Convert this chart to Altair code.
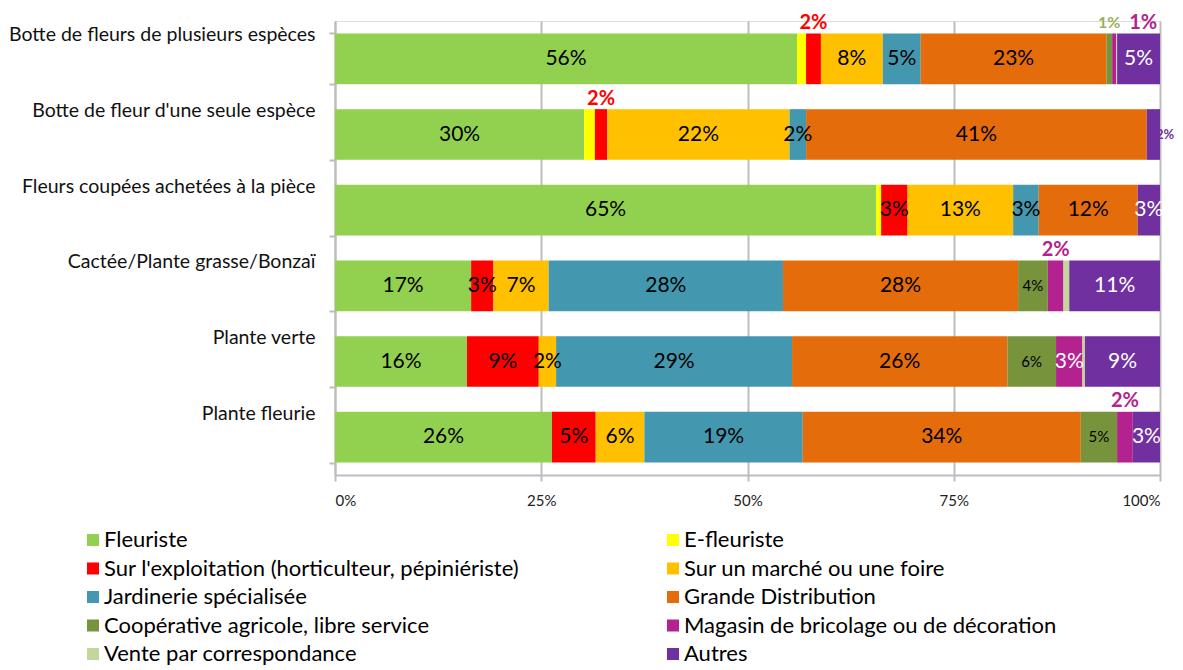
import altair as alt
import pandas as pd

CATEGORIES = [
    "Botte de fleurs de plusieurs espèces",
    "Botte de fleur d'une seule espèce",
    "Fleurs coupées achetées à la pièce",
    "Cactée/Plante grasse/Bonzaï",
    "Plante verte",
    "Plante fleurie",
]

SERIES = [
    "Fleuriste",
    "E-fleuriste",
    "Sur l'exploitation (horticulteur, pépiniériste)",
    "Sur un marché ou une foire",
    "Jardinerie spécialisée",
    "Grande Distribution",
    "Coopérative agricole, libre service",
    "Magasin de bricolage ou de décoration",
    "Vente par correspondance",
    "Autres",
]

COLORS = ["#92D050", "#FFFF00", "#FF0000", "#FFC000", "#4398B0",
          "#E46C0A", "#77933C", "#B3228E", "#C4D79B", "#7030A0"]

# values per category, in SERIES order (percent)
V_BOTTE_PLUSIEURS = [56.0, 1.1, 1.8, 7.5, 4.6, 22.5, 0.7, 0.5, 0.1, 5.2]
V_BOTTE_SEULE = [30.2, 1.3, 1.5, 22.1, 2.0, 41.3, 0.0, 0.0, 0.0, 1.6]
V_COUPEES = [65.6, 0.6, 3.2, 12.8, 3.1, 12.0, 0.0, 0.0, 0.0, 2.7]
V_CACTEE = [16.5, 0.0, 2.7, 6.7, 28.4, 28.5, 3.6, 1.9, 0.7, 11.0]
V_VERTE = [16.0, 0.0, 8.7, 2.1, 28.6, 26.1, 5.9, 3.2, 0.3, 9.1]
V_FLEURIE = [26.3, 0.0, 5.3, 5.9, 19.2, 33.7, 4.4, 1.9, 0.0, 3.3]
VALUES = [V_BOTTE_PLUSIEURS, V_BOTTE_SEULE, V_COUPEES, V_CACTEE, V_VERTE, V_FLEURIE]

# data labels as printed on the chart
L_BOTTE_PLUSIEURS = ["56%", "", "2%", "8%", "5%", "23%", "1%", "1%", "", "5%"]
L_BOTTE_SEULE = ["30%", "", "2%", "22%", "2%", "41%", "", "", "", "2%"]
L_COUPEES = ["65%", "", "3%", "13%", "3%", "12%", "", "", "", "3%"]
L_CACTEE = ["17%", "", "3%", "7%", "28%", "28%", "4%", "2%", "", "11%"]
L_VERTE = ["16%", "", "9%", "2%", "29%", "26%", "6%", "3%", "", "9%"]
L_FLEURIE = ["26%", "", "5%", "6%", "19%", "34%", "5%", "2%", "", "3%"]
LABELS = [L_BOTTE_PLUSIEURS, L_BOTTE_SEULE, L_COUPEES, L_CACTEE, L_VERTE, L_FLEURIE]

# ---- label styling (placement outside the bars) ----
ABOVE = {  # (category index, series index): (color, font size, dx px)
    (0, 2): ("#FF0000", 20, 0),
    (0, 6): ("#9BB057", 16, 0),
    (0, 7): ("#B3228E", 20, 29),
    (1, 2): ("#FF0000", 20, 0),
    (3, 7): ("#B3228E", 20, 0),
    (5, 7): ("#B3228E", 20, 0),
}
RIGHT = {(1, 9): ("#7030A0", 13)}
WHITE_SERIES = {"Autres", "Magasin de bricolage ou de décoration"}
SMALL_SERIES = {"Coopérative agricole, libre service"}

FONT = "Lato"

bars, inside, above, right = [], [], [], []
for ci, cat in enumerate(CATEGORIES):
    cum = 0.0
    for si, s in enumerate(SERIES):
        v = VALUES[ci][si]
        start, end = cum, cum + v
        cum = end
        if v > 0:
            bars.append({"cat": cat, "series": s, "start": start, "end": end})
        lab = LABELS[ci][si]
        if not lab:
            continue
        mid = (start + end) / 2
        if (ci, si) in ABOVE:
            col, fs, dx = ABOVE[(ci, si)]
            above.append({"cat": cat, "x": mid, "label": lab, "col": col, "fs": fs, "dx": dx})
        elif (ci, si) in RIGHT:
            col, fs = RIGHT[(ci, si)]
            right.append({"cat": cat, "x": end, "label": lab, "col": col, "fs": fs})
        else:
            inside.append({
                "cat": cat, "x": mid, "label": lab,
                "col": "#FFFFFF" if s in WHITE_SERIES else "#000000",
                "fs": 15 if s in SMALL_SERIES else 21,
            })

bars_df = pd.DataFrame(bars)
inside_df = pd.DataFrame(inside)
above_df = pd.DataFrame(above)
right_df = pd.DataFrame(right)

y_enc = alt.Y(
    "cat:N",
    sort=CATEGORIES,
    title=None,
    scale=alt.Scale(paddingInner=0.33, paddingOuter=0.165),
    axis=alt.Axis(
        tickBand="extent", ticks=True, tickSize=6, tickColor="#BDBDBD", tickWidth=2,
        domainColor="#BDBDBD", domainWidth=2, grid=False,
        labelFont=FONT, labelFontSize=19.5, labelColor="#111111",
        labelPadding=14, labelOffset=-24, labelLimit=400,
    ),
)
x_scale = alt.Scale(domain=[0, 100], nice=False)

bar_layer = alt.Chart(bars_df).mark_bar().encode(
    x=alt.X(
        "start:Q", scale=x_scale, title=None,
        axis=alt.Axis(
            values=[0, 25, 50, 75, 100], labelExpr="datum.value + '%'",
            grid=True, gridColor="#BDBDBD", gridWidth=2,
            domainColor="#BDBDBD", domainWidth=2,
            tickColor="#BDBDBD", tickWidth=2, tickSize=6,
            labelFont=FONT, labelFontSize=15, labelColor="#222222",
            labelPadding=12,
        ),
    ),
    x2="end:Q",
    y=y_enc,
    color=alt.Color(
        "series:N",
        scale=alt.Scale(domain=SERIES, range=COLORS),
        legend=alt.Legend(
            title=None, orient="none", legendX=-253, legendY=508, columns=2,
            direction="horizontal",
            symbolType="square", symbolSize=144, symbolStrokeWidth=0,
            labelFont=FONT, labelFontSize=22, labelColor="#000000",
            labelOffset=0, columnPadding=142, rowPadding=6.5, labelLimit=600,
        ),
    ),
)

inside_layer = alt.Chart(inside_df).mark_text(
    font=FONT, baseline="middle", align="center"
).encode(
    x=alt.X("x:Q", scale=x_scale),
    y=alt.Y("cat:N", sort=CATEGORIES),
    text="label:N",
    color=alt.Color("col:N", scale=None),
    size=alt.Size("fs:Q", scale=None),
)

above_layers = []
for dx in sorted(above_df["dx"].unique()):
    sub = above_df[above_df["dx"] == dx]
    above_layers.append(
        alt.Chart(sub).mark_text(
            font=FONT, fontWeight="bold", baseline="middle", align="center",
            dy=-36, dx=int(dx),
        ).encode(
            x=alt.X("x:Q", scale=x_scale),
            y=alt.Y("cat:N", sort=CATEGORIES),
            text="label:N",
            color=alt.Color("col:N", scale=None),
            size=alt.Size("fs:Q", scale=None),
        )
    )

right_layer = alt.Chart(right_df).mark_text(
    font=FONT, fontWeight="bold", baseline="middle", align="left", dx=-4,
).encode(
    x=alt.X("x:Q", scale=x_scale),
    y=alt.Y("cat:N", sort=CATEGORIES),
    text="label:N",
    color=alt.Color("col:N", scale=None),
    size=alt.Size("fs:Q", scale=None),
)

chart = alt.layer(bar_layer, inside_layer, *above_layers, right_layer).properties(
    width=825,
    height=454,
    autosize=alt.AutoSizeParams(type="none"),
    padding={"left": 327, "top": 13, "right": 15, "bottom": 195},
).configure_view(stroke=None).configure(background="white")

chart.save("out.html", embed_options={"renderer": "svg", "actions": False})
